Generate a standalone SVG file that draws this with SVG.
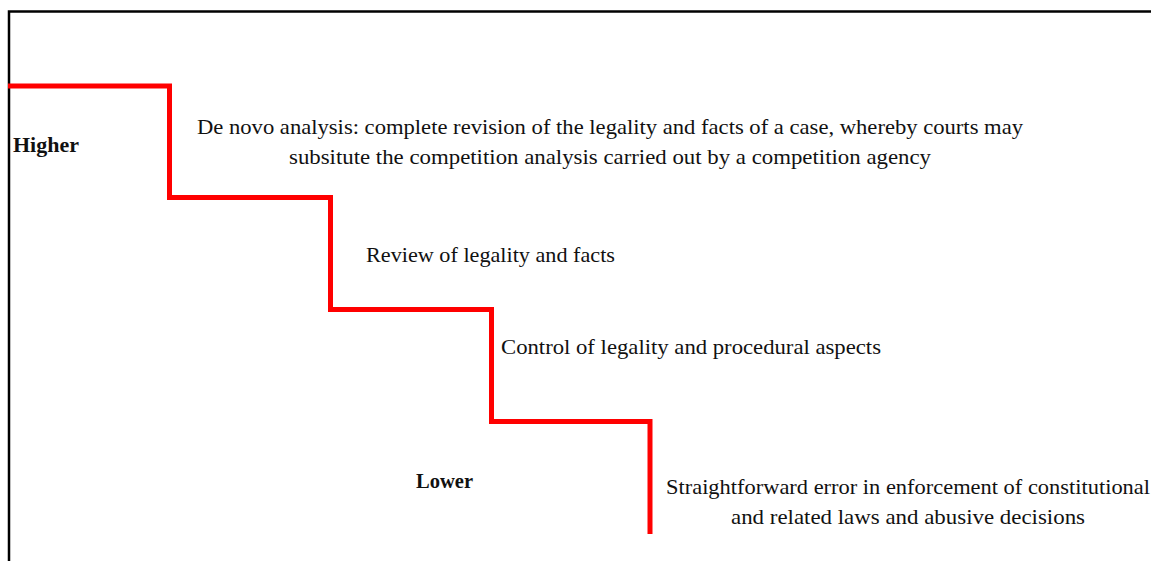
<svg xmlns="http://www.w3.org/2000/svg" width="1151" height="561" viewBox="0 0 1151 561">
  <style>
    .frame { fill: none; stroke: #000; stroke-width: 2.5; }
    .stair { fill: none; stroke: #ff0000; stroke-width: 5; stroke-linejoin: miter; stroke-linecap: butt; }
    .lbl { font-family: "Liberation Serif", "Times New Roman", serif; font-size: 21.5px; fill: #111; }
    .bold { font-weight: bold; }
  </style>
  <rect width="1151" height="561" fill="#fff"/>

  <!-- open frame: top and left edges -->
  <path class="frame" d="M9 561 V11.5 H1151"/>

  <g id="connectors">
    <!-- descending staircase -->
    <path class="stair" d="M8 86 H169.5 V197.5 H330.5 V309.5 H491.5 V421.5 H650 V534"/>
  </g>

  <g id="higher">
    <text class="lbl bold" x="13" y="152" textLength="66" lengthAdjust="spacingAndGlyphs">Higher</text>
  </g>
  <g id="lower">
    <text class="lbl bold" x="416" y="488" textLength="57" lengthAdjust="spacingAndGlyphs">Lower</text>
  </g>

  <g id="level-de-novo">
    <text class="lbl" x="197" y="134" textLength="826" lengthAdjust="spacingAndGlyphs">De novo analysis: complete revision of the legality and facts of a case, whereby courts may</text>
    <text class="lbl" x="289" y="164" textLength="642" lengthAdjust="spacingAndGlyphs">subsitute the competition analysis carried out by a competition agency</text>
  </g>
  <g id="level-review">
    <text class="lbl" x="366" y="262" textLength="249" lengthAdjust="spacingAndGlyphs">Review of legality and facts</text>
  </g>
  <g id="level-control">
    <text class="lbl" x="501" y="354" textLength="380" lengthAdjust="spacingAndGlyphs">Control of legality and procedural aspects</text>
  </g>
  <g id="level-error">
    <text class="lbl" x="666" y="494" textLength="484" lengthAdjust="spacingAndGlyphs">Straightforward error in enforcement of constitutional</text>
    <text class="lbl" x="731" y="524" textLength="354" lengthAdjust="spacingAndGlyphs">and related laws and abusive decisions</text>
  </g>
</svg>
